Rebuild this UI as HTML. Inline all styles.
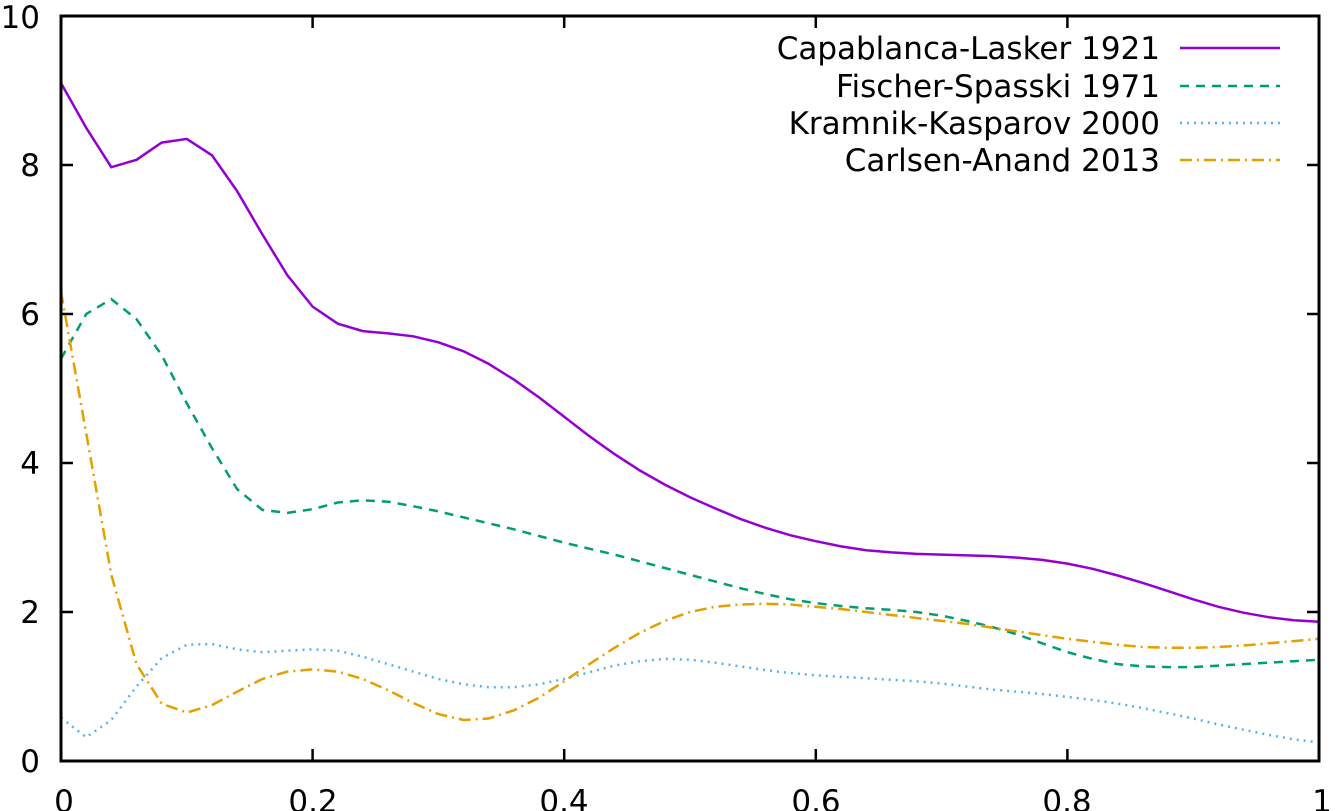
<!DOCTYPE html>
<html><head><meta charset="utf-8"><style>
html,body{margin:0;padding:0;background:#fff;}
svg{display:block;font-family:"DejaVu Sans","Liberation Sans",sans-serif;}
</style></head><body>
<svg id="s" width="1335" height="811" xmlns="http://www.w3.org/2000/svg">
<g font-size="31" fill="#000" text-anchor="end">
<text x="40" y="772">0</text>
<text x="40" y="623">2</text>
<text x="40" y="474">4</text>
<text x="40" y="325">6</text>
<text x="40" y="176">8</text>
<text x="40" y="28">10</text>
</g>
<g font-size="31" fill="#000" text-anchor="middle">
<text x="64" y="812">0</text>
<text x="313" y="812">0.2</text>
<text x="564" y="812">0.4</text>
<text x="816" y="812">0.6</text>
<text x="1067" y="812">0.8</text>
<text x="1322" y="812">1</text>
</g>
<g id="ticks" stroke="#000" stroke-width="2.5"></g>
<g id="series" fill="none" stroke-width="2.5"></g>
<rect x="61" y="16" width="1258" height="745" fill="none" stroke="#000" stroke-width="3"/>
<g font-size="31" fill="#000" text-anchor="end">
<text x="1160" y="59">Capablanca-Lasker 1921</text>
<text x="1160" y="97">Fischer-Spasski 1971</text>
<text x="1160" y="134">Kramnik-Kasparov 2000</text>
<text x="1160" y="171">Carlsen-Anand 2013</text>
</g>
<g fill="none" stroke-width="2.5">
<line x1="1180" y1="48" x2="1280" y2="48" stroke="#9400d3"/>
<line x1="1180" y1="86" x2="1280" y2="86" stroke="#009e73" stroke-dasharray="9,7"/>
<line x1="1180" y1="123" x2="1280" y2="123" stroke="#56b4e9" stroke-dasharray="2,5"/>
<line x1="1180" y1="160" x2="1280" y2="160" stroke="#e69f00" stroke-dasharray="12,5,2,5"/>
</g>
</svg>
<script>
var X=function(v){return 61+v*1258},Y=function(v){return 761-v*74.5};
var ns="http://www.w3.org/2000/svg";
var t=document.getElementById('ticks'),d="";
for(var i=0;i<=5;i++){var y=Y(i*2);d+="M61 "+y+"h12M1319 "+y+"h-12";var x=X(i*0.2);d+="M"+x+" 761v-12M"+x+" 16v12";}
var p=document.createElementNS(ns,'path');p.setAttribute('d',d);t.appendChild(p);
var S=[
["#9400d3","",[9.1,8.5,7.97,8.07,8.3,8.35,8.13,7.65,7.07,6.52,6.1,5.87,5.77,5.74,5.7,5.62,5.5,5.33,5.12,4.88,4.62,4.36,4.12,3.9,3.71,3.54,3.39,3.25,3.13,3.03,2.95,2.88,2.83,2.8,2.78,2.77,2.76,2.75,2.73,2.7,2.65,2.58,2.49,2.39,2.28,2.17,2.07,1.99,1.93,1.89,1.87]],
["#009e73","9,7",[5.4,6.0,6.2,5.93,5.45,4.8,4.2,3.65,3.37,3.33,3.38,3.47,3.5,3.48,3.42,3.35,3.27,3.19,3.11,3.02,2.93,2.85,2.77,2.68,2.59,2.5,2.41,2.32,2.24,2.17,2.12,2.08,2.05,2.03,2.0,1.95,1.88,1.8,1.7,1.58,1.46,1.37,1.3,1.27,1.26,1.26,1.28,1.3,1.32,1.34,1.36]],
["#56b4e9","2,5",[0.58,0.32,0.55,1.0,1.38,1.56,1.57,1.5,1.46,1.48,1.5,1.48,1.4,1.3,1.2,1.1,1.03,0.99,0.99,1.03,1.1,1.19,1.28,1.34,1.37,1.36,1.32,1.27,1.22,1.18,1.15,1.13,1.11,1.09,1.07,1.04,1.0,0.96,0.93,0.9,0.86,0.82,0.77,0.71,0.64,0.57,0.49,0.42,0.35,0.29,0.25]],
["#e69f00","12,5,2,5",[6.3,4.4,2.5,1.3,0.77,0.65,0.75,0.93,1.1,1.2,1.23,1.2,1.1,0.95,0.78,0.63,0.55,0.57,0.68,0.85,1.07,1.3,1.52,1.72,1.88,2.0,2.07,2.1,2.11,2.1,2.07,2.04,2.0,1.96,1.92,1.88,1.84,1.79,1.74,1.69,1.64,1.6,1.56,1.53,1.52,1.52,1.53,1.55,1.58,1.61,1.64]]];
var g=document.getElementById('series');
S.forEach(function(s){var d="";s[2].forEach(function(v,i){d+=(i?"L":"M")+X(i*0.02).toFixed(1)+" "+Y(v).toFixed(1);});
var p=document.createElementNS(ns,'path');p.setAttribute('d',d);p.setAttribute('stroke',s[0]);if(s[1])p.setAttribute('stroke-dasharray',s[1]);g.appendChild(p);});
</script>
</body></html>
